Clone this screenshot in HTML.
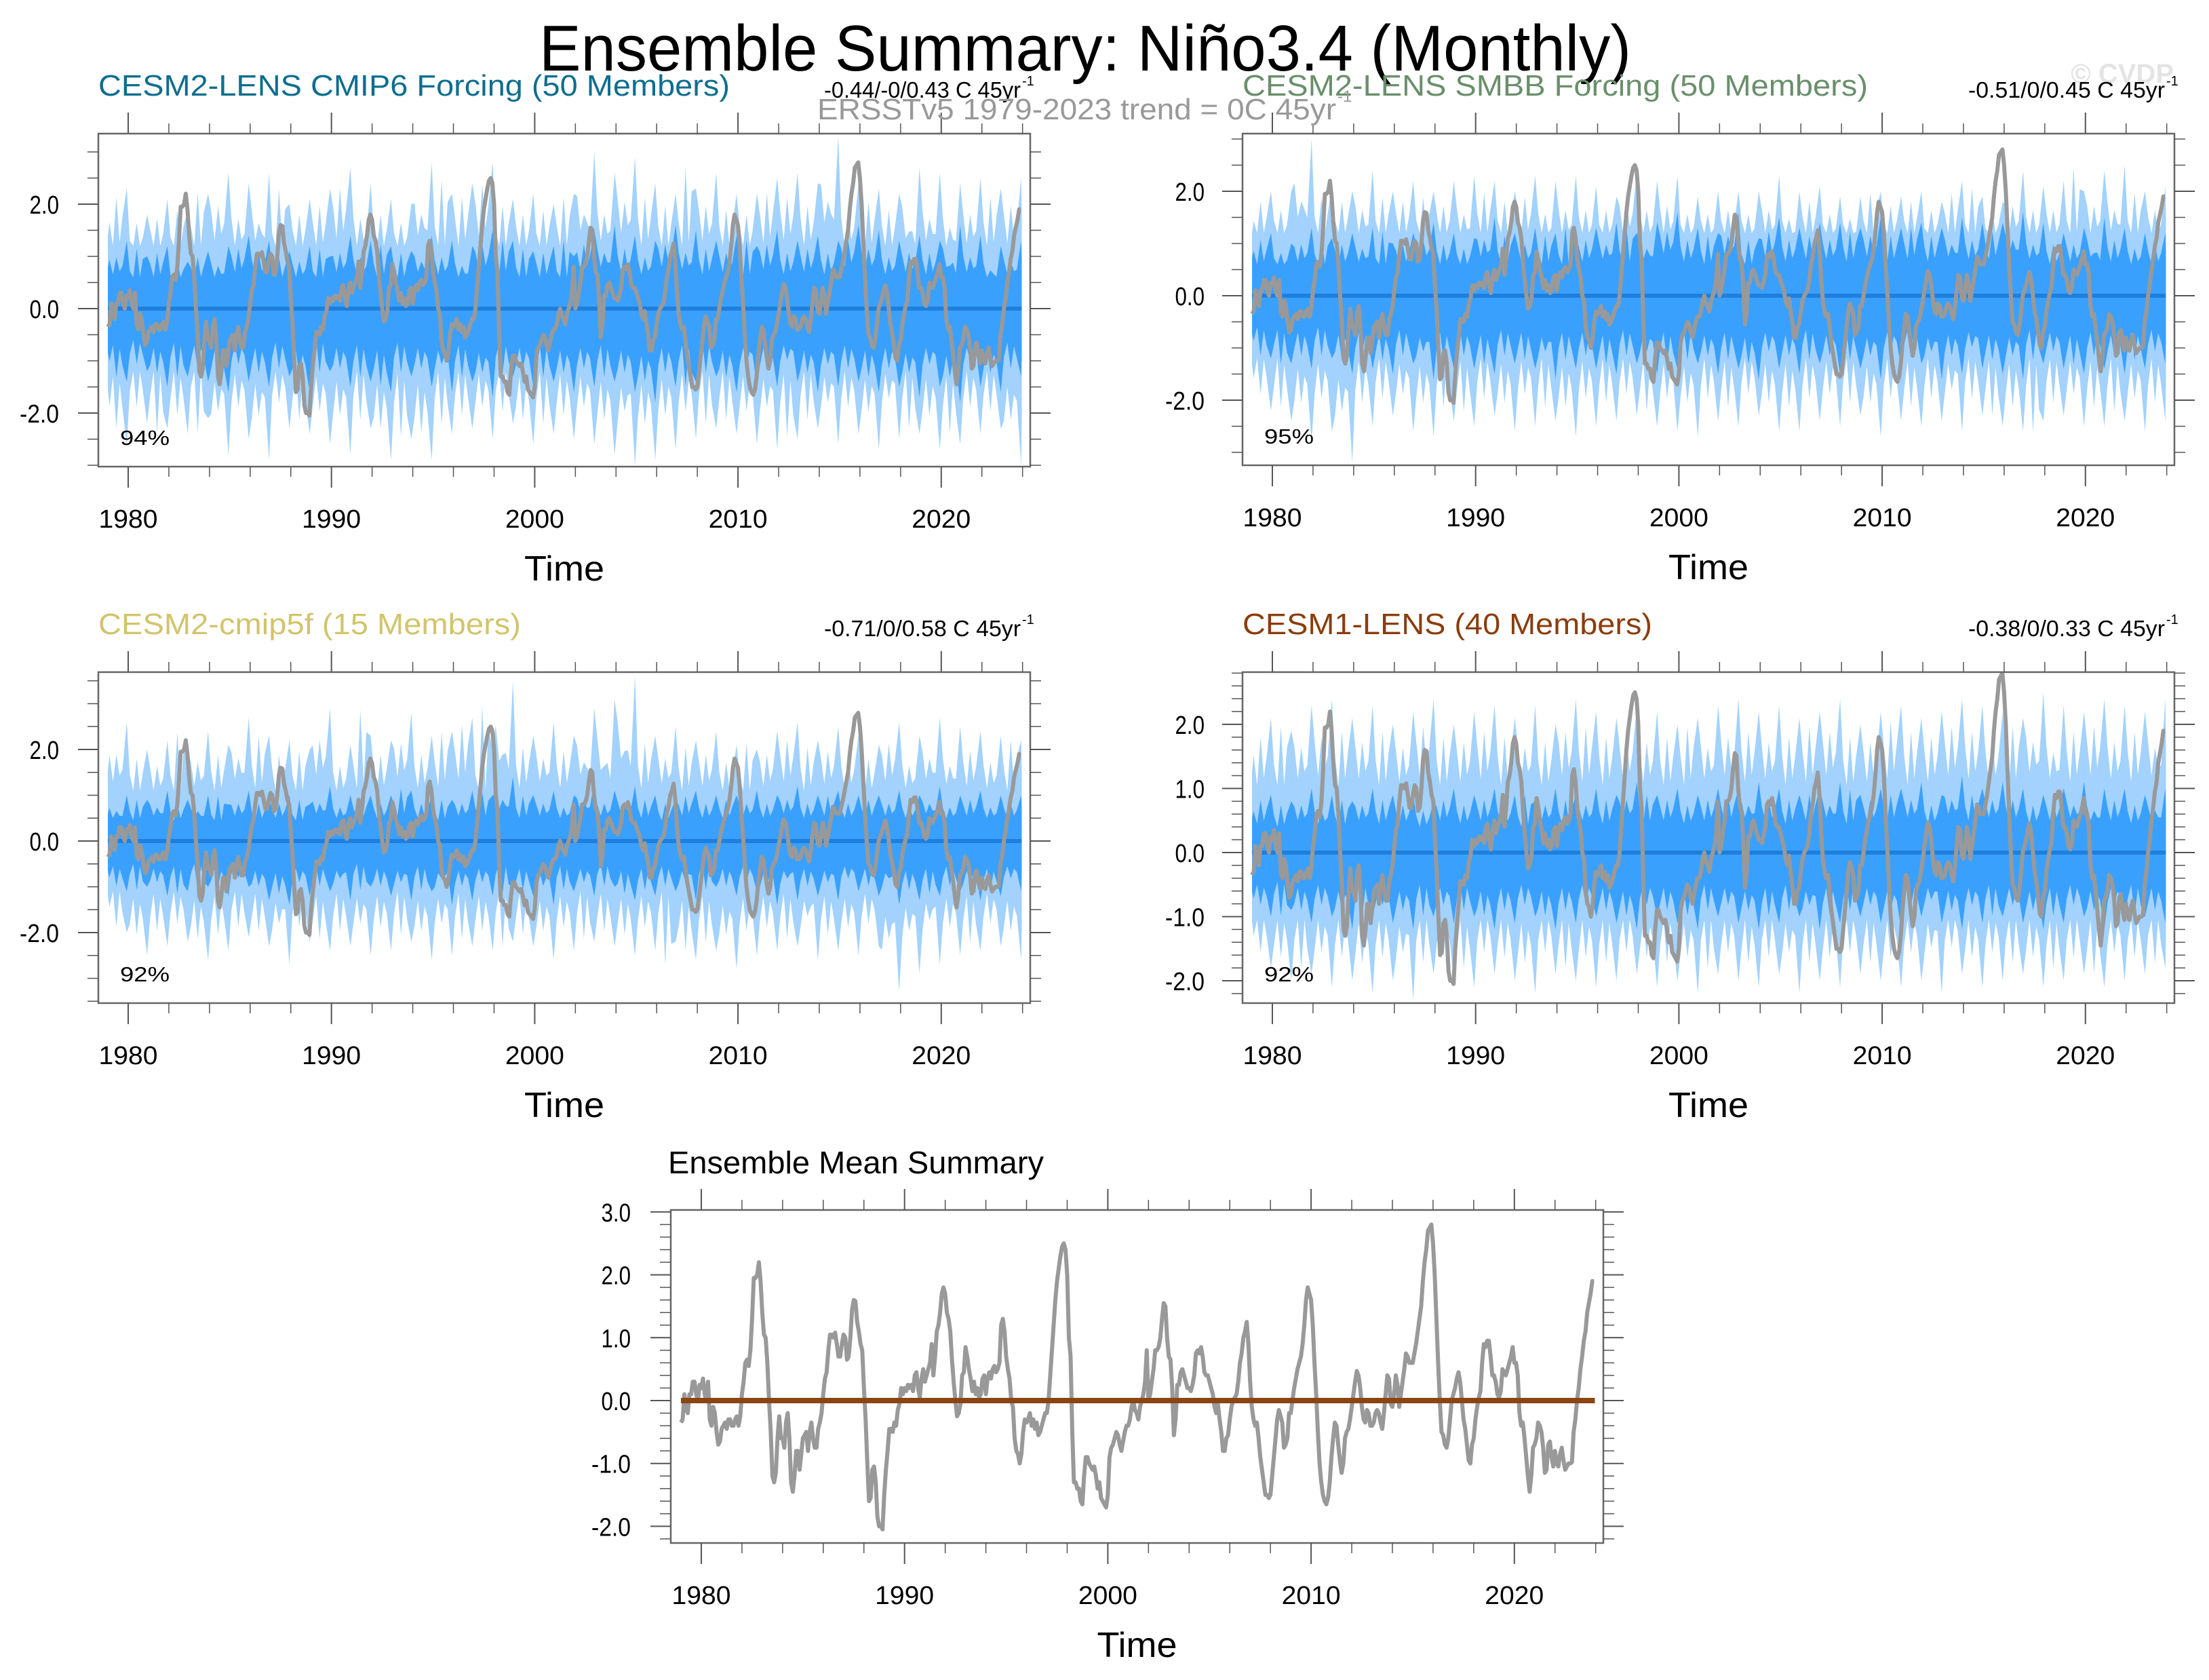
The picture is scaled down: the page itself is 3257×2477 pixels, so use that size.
<!DOCTYPE html>
<html><head><meta charset="utf-8"><style>
html,body{margin:0;padding:0;background:#fff;}
svg{display:block;font-family:"Liberation Sans",sans-serif;}
</style></head><body>
<svg id="root" width="3257" height="2477" viewBox="0 0 3257 2477" xmlns="http://www.w3.org/2000/svg">
<rect width="3257" height="2477" fill="#fff"/>
<text x="1600" y="104" font-size="96" text-anchor="middle" textLength="1610" lengthAdjust="spacingAndGlyphs" fill="#000">Ensemble Summary: Niño3.4 (Monthly)</text>
<text x="3205" y="122" font-size="40" text-anchor="end" fill="#e4e4e4" font-weight="bold">© CVDP</text>
<g id="panels"></g>
<text x="1205" y="176" font-size="44" fill="#999" textLength="765" lengthAdjust="spacingAndGlyphs">ERSSTv5 1979-2023 trend = 0C 45yr</text>
<text x="1972" y="150" font-size="24" fill="#999">-1</text>
</svg>
<script>
// Observed Niño3.4 monthly anomalies (ERSSTv5), Jan 1979 – Dec 2023, one row per year
const obsAnom = [
-0.35,-0.3,0.1,-0.1,-0.2,0.1,0.1,0.3,0.3,0.1,0.0,0.25,
0.2,0.35,0.1,0.0,0.3,-0.3,-0.4,-0.1,-0.2,-0.5,-0.7,-0.65,
-0.45,-0.4,-0.35,-0.45,-0.3,-0.3,-0.4,-0.4,-0.3,-0.25,-0.4,-0.25,
0.1,0.3,0.6,0.65,0.55,0.8,1.3,1.95,1.95,2.0,2.2,1.9,
1.4,1.05,1.0,0.6,0.0,-0.5,-1.2,-1.3,-1.15,-0.6,-0.25,-0.6,
-0.6,-0.75,-0.35,-0.2,-0.6,-1.3,-1.45,-1.2,-0.8,-0.8,-1.1,-0.85,
-0.6,-0.55,-0.5,-0.8,-0.5,-0.35,-0.6,-0.75,-0.75,-0.45,-0.35,-0.2,
0.1,0.35,0.45,0.8,1.05,1.05,1.0,1.08,0.9,0.7,0.7,0.9,
1.05,1.0,0.65,0.7,1.0,1.45,1.6,1.58,1.25,1.1,0.9,0.8,
0.2,-0.3,-1.0,-1.6,-1.55,-1.1,-1.05,-1.3,-1.85,-2.0,-2.0,-2.05,
-1.5,-1.1,-0.8,-0.45,-0.45,-0.5,-0.35,-0.4,-0.15,-0.05,0.2,0.1,
0.2,0.15,0.25,0.2,0.25,0.15,0.4,0.45,0.2,0.05,0.35,0.5,
0.3,0.4,0.5,0.6,0.9,0.4,0.7,1.1,1.2,1.4,1.7,1.8,
1.7,1.4,1.3,1.1,0.65,0.3,0.0,-0.25,-0.2,-0.05,0.4,0.45,
0.85,0.7,0.5,0.35,0.15,0.3,0.1,0.2,0.05,0.1,0.35,0.4,
0.1,0.35,0.45,0.35,0.5,0.55,0.45,0.5,0.6,1.2,1.3,1.1,
0.7,0.5,0.35,0.0,-0.1,-0.6,-0.8,-0.85,-1.0,-0.85,-0.5,-0.3,
-0.35,-0.3,-0.2,-0.4,-0.3,-0.45,-0.35,-0.55,-0.5,-0.4,-0.3,-0.2,
-0.2,0.0,0.4,0.8,1.2,1.6,1.9,2.1,2.3,2.45,2.5,2.4,
2.0,1.0,0.7,-0.5,-1.3,-1.3,-1.4,-1.4,-1.6,-1.65,-1.2,-0.9,
-0.9,-1.0,-1.05,-1.1,-1.05,-1.2,-1.4,-1.3,-1.55,-1.6,-1.65,-1.7,
-1.5,-0.9,-0.75,-0.7,-0.6,-0.5,-0.55,-0.7,-0.8,-0.65,-0.5,-0.4,
-0.4,-0.3,-0.1,0.0,-0.15,-0.2,-0.3,-0.1,0.0,0.1,0.3,0.8,
0.0,0.1,0.3,0.5,0.8,0.8,0.85,1.0,1.3,1.55,1.5,1.0,
0.7,0.65,0.2,-0.55,-0.3,0.25,0.25,0.45,0.5,0.4,0.3,0.2,
0.2,0.15,0.25,0.4,0.75,0.8,0.75,0.85,0.7,0.45,0.4,0.4,
0.3,0.2,0.1,-0.1,-0.2,-0.05,-0.3,-0.5,-0.8,-0.8,-0.6,-0.55,
-0.3,-0.1,0.0,0.05,0.1,0.3,0.6,0.75,1.0,1.1,1.25,0.9,
0.3,-0.1,-0.3,-0.4,-0.35,-0.6,-0.9,-1.1,-1.3,-1.5,-1.5,-1.55,
-1.5,-1.2,-0.9,-0.6,-0.3,-0.15,-0.25,-0.35,-0.75,-0.7,-0.6,-0.2,
-0.2,0.0,0.2,0.35,0.5,0.6,0.7,0.9,1.2,1.6,1.8,1.7,
1.6,1.2,0.6,0.1,-0.5,-1.0,-1.3,-1.5,-1.6,-1.65,-1.55,-1.3,
-0.9,-0.6,-0.35,-0.4,-0.7,-0.95,-1.15,-1.0,-0.6,-0.5,-0.45,-0.3,
-0.1,0.1,0.3,0.47,0.4,0.2,-0.1,-0.3,-0.35,-0.15,-0.2,-0.4,
-0.4,-0.35,-0.2,-0.15,-0.2,-0.35,-0.45,-0.2,0.1,0.4,0.35,-0.05,
-0.1,0.1,0.4,0.25,-0.1,0.1,0.3,0.5,0.75,0.7,0.6,0.6,
0.6,0.75,0.9,1.1,1.3,1.5,1.9,2.2,2.4,2.7,2.75,2.8,
2.5,2.0,1.3,0.6,0.0,-0.5,-0.55,-0.7,-0.75,-0.6,-0.3,0.0,
0.1,0.2,0.35,0.45,0.3,0.0,-0.3,-0.45,-0.7,-0.95,-1.0,-0.7,
-0.6,-0.3,-0.1,0.05,0.15,0.6,0.9,0.85,0.95,0.95,0.7,0.4,
0.4,0.3,0.1,0.05,0.15,0.5,0.45,0.4,0.5,0.6,0.7,0.85,
0.6,0.6,0.4,-0.2,-0.4,-0.35,-0.6,-0.9,-1.2,-1.45,-1.2,-0.75,
-0.7,-0.6,-0.35,-0.4,-0.5,-0.75,-1.15,-1.1,-0.7,-0.65,-0.9,-1.05,
-0.8,-1.0,-1.05,-0.85,-0.75,-0.95,-1.1,-1.05,-1.0,-1.0,-0.98,-0.5,
-0.3,0.0,0.2,0.5,0.7,0.95,1.1,1.4,1.55,1.7,1.9,1.9];

// Ensemble spread: annual winter-peak values of outer (min/max) and inner (percentile) bounds
const p1OuterHi = [2.3,1.8,2.1,1.9,2.2,2.6,2.4,2.6,2.0,2.1,2.3,2.7,2.4,2.1,2.0,2.8,2.2,2.4,2.8,2.1,2.2,2.0,2.2,3.0,2.6,2.9,2.4,2.2,2.3,2.6,2.2,2.2,2.5,2.6,2.4,3.3,2.4,2.3,2.2,2.7,2.6,2.4,2.5,2.3,2.5];
const p1InnerHi = [1.3,1.0,1.2,0.9,1.1,1.2,1.4,1.3,1.1,1.2,1.0,1.4,1.3,1.2,1.1,1.4,1.3,1.2,1.5,1.3,1.1,1.2,1.0,1.5,1.6,1.4,1.3,1.6,1.5,1.3,1.4,1.2,1.5,1.3,1.4,1.3,1.6,1.5,1.3,1.4,1.3,1.6,1.4,1.2,1.3];
const p1InnerLo = [-1.4,-1.2,-1.5,-1.3,-1.4,-1.6,-1.4,-1.5,-1.3,-1.6,-1.2,-1.5,-1.4,-1.6,-1.3,-1.5,-1.6,-1.4,-1.7,-1.3,-1.5,-1.4,-1.6,-1.5,-1.4,-1.6,-1.8,-1.5,-1.4,-1.3,-1.6,-1.5,-1.5,-1.4,-1.6,-1.5,-1.4,-1.6,-1.5,-1.7,-1.5,-1.8,-1.5,-1.6,-1.3];
const p1OuterLo = [-2.6,-2.2,-2.3,-2.4,-2.1,-2.8,-2.5,-2.9,-2.3,-2.4,-2.6,-2.8,-2.3,-2.9,-2.5,-2.9,-2.4,-2.3,-2.5,-2.2,-2.6,-2.4,-2.5,-2.6,-2.8,-3.0,-2.9,-2.7,-2.5,-2.3,-2.4,-2.6,-2.7,-2.5,-2.3,-2.6,-2.4,-2.7,-2.5,-2.4,-2.7,-2.6,-2.4,-2.3,-3.0];
const p2OuterHi = [2.0,2.0,3.0,2.1,2.0,2.4,2.0,2.2,2.0,2.2,2.3,2.2,2.0,2.3,2.2,2.3,2.1,1.9,2.4,2.2,2.3,1.9,2.0,2.0,2.0,2.3,2.0,2.1,1.9,1.9,2.0,1.9,2.0,1.8,2.2,1.9,1.8,2.4,2.1,2.2,2.0,2.4,2.5,2.0,2.1];
const p2InnerHi = [1.2,1.0,1.3,1.1,1.2,1.3,1.0,1.2,1.4,1.2,1.1,1.5,1.2,1.3,1.2,1.1,1.3,1.4,1.2,1.4,1.6,1.3,1.2,1.6,1.1,1.5,1.3,1.4,1.4,1.3,1.5,1.3,1.4,1.3,1.5,1.4,1.4,1.6,1.4,1.2,1.3,1.5,1.3,1.2,1.2];
const p2InnerLo = [-1.2,-1.3,-1.4,-1.2,-1.5,-1.4,-1.5,-1.3,-1.6,-1.4,-1.4,-1.5,-1.3,-1.4,-1.6,-1.4,-1.4,-1.5,-1.3,-1.5,-1.4,-1.3,-1.5,-1.4,-1.6,-1.4,-1.5,-1.3,-1.5,-1.4,-1.6,-1.4,-1.3,-1.6,-1.5,-1.4,-1.5,-1.6,-1.3,-1.4,-1.5,-1.4,-1.5,-1.4,-1.3];
const p2OuterLo = [-2.2,-2.4,-2.8,-2.6,-3.2,-2.5,-2.3,-2.6,-2.7,-2.4,-2.5,-2.3,-2.6,-2.5,-2.4,-2.7,-2.5,-2.4,-2.3,-2.5,-2.6,-2.7,-2.4,-2.5,-2.3,-2.6,-2.6,-2.4,-2.5,-2.3,-2.7,-2.4,-2.5,-2.4,-2.6,-2.3,-2.5,-2.6,-2.4,-2.3,-2.5,-2.5,-2.4,-2.6,-2.4];
const p3OuterHi = [2.6,2.0,2.2,2.0,2.4,2.1,2.7,2.3,2.2,2.0,2.9,2.1,2.3,2.2,2.8,2.3,2.4,2.7,2.0,3.5,2.3,2.6,2.3,2.9,3.1,3.6,2.3,2.5,2.2,2.4,2.1,2.0,2.4,2.6,2.2,2.5,2.3,2.1,2.6,2.3,2.7,2.5,2.4,2.3,2.2];
const p3InnerHi = [1.0,0.9,1.1,0.9,1.0,0.8,1.1,0.9,1.0,0.8,1.2,1.0,1.0,1.0,1.1,1.0,0.9,1.1,1.0,1.4,1.0,1.1,1.0,1.3,1.1,1.2,1.0,0.9,1.1,1.0,1.0,1.1,1.0,1.2,1.0,1.1,1.0,1.0,1.1,1.0,1.2,1.0,1.1,1.0,1.0];
const p3InnerLo = [-1.1,-1.0,-1.2,-1.1,-1.0,-1.2,-1.0,-1.3,-1.4,-1.2,-1.1,-1.3,-1.0,-1.2,-1.3,-1.1,-1.4,-1.3,-1.2,-1.0,-1.2,-1.4,-1.1,-1.2,-1.0,-1.3,-1.2,-1.1,-1.3,-1.0,-1.2,-1.1,-1.4,-1.3,-1.2,-1.3,-1.1,-1.2,-1.4,-1.3,-1.2,-1.1,-1.3,-1.2,-1.1];
const p3OuterLo = [-2.0,-2.5,-2.3,-2.2,-2.6,-2.4,-2.1,-2.3,-2.7,-2.2,-2.4,-2.3,-2.5,-2.4,-2.2,-2.6,-2.5,-2.3,-2.4,-2.2,-2.3,-2.6,-2.4,-2.2,-2.3,-2.5,-2.4,-2.2,-2.6,-2.4,-2.8,-2.5,-2.4,-2.3,-2.6,-2.4,-2.5,-2.3,-3.3,-2.9,-2.7,-2.5,-2.4,-2.3,-2.6];
const p4OuterHi = [2.1,1.9,2.3,2.4,2.1,2.3,2.0,2.2,2.4,2.0,2.2,2.3,2.1,2.3,2.0,2.4,2.2,2.1,2.3,2.2,2.0,2.1,2.3,2.4,2.2,2.3,2.1,2.2,2.4,2.0,2.2,2.3,2.1,2.2,2.4,2.3,2.2,2.1,2.5,2.3,2.2,2.4,2.3,2.2,2.4];
const p4InnerHi = [0.9,0.8,1.0,0.9,0.8,1.0,0.9,0.9,0.8,1.0,0.9,1.0,0.9,0.8,1.0,0.9,1.0,0.9,1.1,0.9,1.0,0.9,1.0,1.0,1.1,1.0,0.9,1.0,1.1,0.9,1.0,1.0,1.1,0.9,1.2,1.0,1.1,1.0,0.9,1.0,1.1,1.0,1.0,0.9,1.0];
const p4InnerLo = [-1.0,-0.9,-1.1,-1.0,-1.2,-1.0,-1.1,-1.2,-1.0,-1.1,-1.0,-1.2,-1.1,-1.0,-1.2,-1.1,-1.0,-1.1,-1.2,-1.0,-1.1,-1.2,-1.0,-1.1,-1.2,-1.1,-1.0,-1.2,-1.1,-1.0,-1.1,-1.2,-1.0,-1.1,-1.2,-1.1,-1.0,-1.1,-1.2,-1.1,-1.0,-1.2,-1.1,-1.0,-1.1];
const p4OuterLo = [-1.8,-2.0,-1.9,-2.1,-2.0,-2.2,-2.0,-2.3,-1.9,-2.0,-2.1,-1.9,-2.0,-2.2,-1.9,-2.0,-2.1,-2.0,-1.9,-2.1,-2.0,-2.2,-1.9,-2.0,-2.1,-1.9,-2.2,-2.0,-2.1,-1.9,-2.0,-2.1,-2.0,-2.2,-1.9,-2.1,-2.0,-1.9,-2.1,-2.0,-1.9,-2.1,-2.0,-1.9,-1.8];
const troughOuter = [1.2,1.2,1.1,1.05];
const troughInner = [0.6,0.6,0.45,0.4];
const ensMean = [0,0,0,0,0];
const xMajorYears = [1980,1990,2000,2010,2020];
const percentLabels = ["94%","95%","92%","92%"];
const panelTitles = ["CESM2-LENS CMIP6 Forcing (50 Members)","CESM2-LENS SMBB Forcing (50 Members)","CESM2-cmip5f (15 Members)","CESM1-LENS (40 Members)"];
const trendLabels = ["-0.44/-0/0.43 C 45yr","-0.51/0/0.45 C 45yr","-0.71/0/0.58 C 45yr","-0.38/0/0.33 C 45yr"];
</script>
<script>
const NS="http://www.w3.org/2000/svg";
const root=document.getElementById('panels');
function mk(tag,attrs,parent){const e=document.createElementNS(NS,tag);for(const k in attrs)e.setAttribute(k,attrs[k]);(parent||root).appendChild(e);return e;}
const bands=[[p1OuterHi,p1InnerHi,p1InnerLo,p1OuterLo],[p2OuterHi,p2InnerHi,p2InnerLo,p2OuterLo],[p3OuterHi,p3InnerHi,p3InnerLo,p3OuterLo],[p4OuterHi,p4InnerHi,p4InnerLo,p4OuterLo]];
const layout=[
 {L:145,R:1519,T:197,B:688,y0:455,u:77,x0:189,minor:0.5,ylab:[-2,0,2],labR:87,dy:0,title:"#0d6e8e"},
 {L:1832,R:3206,T:197,B:686,y0:436,u:77,x0:1876,minor:0.5,ylab:[-2,0,2],labR:1776,dy:0,title:"#6a8f6c"},
 {L:145,R:1519,T:991,B:1479,y0:1240,u:67.5,x0:189,minor:0.5,ylab:[-2,0,2],labR:87,dy:794,title:"#d2c46c"},
 {L:1832,R:3206,T:991,B:1479,y0:1257,u:94.5,x0:1876,minor:0.2,ylab:[-2,-1,0,1,2],labR:1776,dy:794,title:"#8a3d0c"},
 {L:989,R:2364,T:1784,B:2275,y0:2065,u:92.7,x0:1034,minor:0.2,ylab:[-2,-1,0,1,2,3],labR:930,dy:1590,title:"#000"}
];
const PPY=29.97;
const shapeF=[0.08,0.25,0.42,0.58,0.72,0.93];
const shapeM=[0.72,0.5,0.82,0.55,0.68,1.0];
function drawPanel(pi){
 const c=layout[pi];
 const g=mk('g',{});
 
 
 const X=yr=>c.x0+(yr-1980)*PPY, Y=v=>c.y0-v*c.u;
 const clipId='clip'+pi;
 const cp=mk('clipPath',{id:clipId},g);mk('rect',{x:c.L,y:c.T,width:c.R-c.L,height:c.B-c.T},cp);
 const data=mk('g',{'clip-path':'url(#'+clipId+')'},g);
 if(pi<4){
  const b=bands[pi];
  const env=(arr,tr,alt)=>{const s=Math.sign(arr[0]);const pts=[[1979.0,arr[0]*0.6]];for(let i=0;i<arr.length;i++){const nb=arr[(i+alt)%arr.length];for(let k=0;k<shapeF.length;k++){const a=k===2||k===4?nb:arr[i];let v=a*shapeM[k];if(Math.abs(v)<tr)v=tr*s;pts.push([1979+i+shapeF[k],v]);}}pts.push([2023.96,arr[arr.length-1]*0.7]);return pts;};
  const poly=(hi,lo,col,nm)=>{const p=hi.concat(lo.slice().reverse()).map(q=>X(q[0]).toFixed(1)+','+Y(q[1]).toFixed(1)).join(' ');const e=mk('polygon',{points:p,fill:col},data);};
  poly(env(b[0],troughOuter[pi],7),env(b[3],troughOuter[pi],11),'#a2d2fd','ensemble-outer-range');
  poly(env(b[1],troughInner[pi],5),env(b[2],troughInner[pi],13),'#3aa0fd','ensemble-inner-range');
 }
 const ml=mk('line',{x1:X(1979),x2:X(2023.96),y1:Y(ensMean[pi]),y2:Y(ensMean[pi]),stroke:pi<4?'#1f7fdc':'#8b4513','stroke-width':pi<4?6:8},data);
 
 
 const op=obsAnom.map((v,i)=>X(1979+i/12).toFixed(1)+','+Y(v).toFixed(1)).join(' ');
 const ol=mk('polyline',{points:op,fill:'none',stroke:'#999','stroke-width':6,'stroke-linejoin':'round'},data);
 
 
 if(pi===4){const ml2=mk('line',{x1:X(1979),x2:X(2023.96),y1:Y(ensMean[pi]),y2:Y(ensMean[pi]),stroke:'#8b4513','stroke-width':8},data);}
 const fr=mk('rect',{x:c.L,y:c.T,width:c.R-c.L,height:c.B-c.T,fill:'none',stroke:'#666','stroke-width':2.5},g);
 
 
 for(let yr=1980;yr<=2024;yr+=2){const x=X(yr);const maj=yr%10===0;const len=maj?31:15;
  mk('line',{x1:x,x2:x,y1:c.T,y2:c.T-len,stroke:'#555','stroke-width':maj?2:1.5},g);
  mk('line',{x1:x,x2:x,y1:c.B,y2:c.B+len,stroke:'#555','stroke-width':maj?2:1.5},g);}
 const ty=c.B+90;
 xMajorYears.forEach(yr=>{const t=mk('text',{x:X(yr),y:ty,'font-size':38,'text-anchor':'middle',textLength:87,lengthAdjust:'spacingAndGlyphs'},g);t.textContent=yr;
  
  });
 const xt=mk('text',{x:(c.L+c.R)/2,y:c.B+168,'font-size':52,'text-anchor':'middle',textLength:118,lengthAdjust:'spacingAndGlyphs'},g);xt.textContent='Time';
 
 
 const steps=Math.round(1/c.minor);
 for(let k=Math.ceil((c.y0-c.B)/c.u*steps);k<=Math.floor((c.y0-c.T)/c.u*steps);k++){const v=k/steps;const y=Y(v);const maj=c.ylab.indexOf(Math.round(v*100)/100)>=0;const len=maj?30:16;
  mk('line',{x1:c.L,x2:c.L-len,y1:y,y2:y,stroke:'#555','stroke-width':maj?2:1.5},g);
  mk('line',{x1:c.R,x2:c.R+len,y1:y,y2:y,stroke:'#555','stroke-width':maj?2:1.5},g);}
 c.ylab.forEach(v=>{const s=v.toFixed(1);const t=mk('text',{x:c.labR,y:Y(v)+14,'font-size':38,'text-anchor':'end',textLength:s.length*14.5,lengthAdjust:'spacingAndGlyphs'},g);t.textContent=s;
  
  });
 if(pi<4){
  const tt=mk('text',{x:c.L,y:141+c.dy,'font-size':44,fill:c.title},g);tt.textContent=panelTitles[pi];
  tt.setAttribute('textLength',pi===0?931:pi===1?922:pi===2?623:604);tt.setAttribute('lengthAdjust','spacingAndGlyphs');
  
  
  const tr=mk('text',{x:c.R-14,y:144+c.dy,'font-size':33,'text-anchor':'end',textLength:290,lengthAdjust:'spacingAndGlyphs'},g);tr.textContent=trendLabels[pi];
  
  
  const sp=mk('text',{x:c.R-12,y:126+c.dy,'font-size':20},g);sp.textContent='-1';
  
  
  const pc=mk('text',{x:c.L+32,y:c.B-32,'font-size':31,textLength:73,lengthAdjust:'spacingAndGlyphs'},g);pc.textContent=percentLabels[pi];
  
  
 } else {
  const tt=mk('text',{x:985,y:1730,'font-size':46,textLength:554,lengthAdjust:'spacingAndGlyphs'},g);tt.textContent='Ensemble Mean Summary';
  
  
 }
}
for(let i=0;i<5;i++)drawPanel(i);
</script>
</body></html>
